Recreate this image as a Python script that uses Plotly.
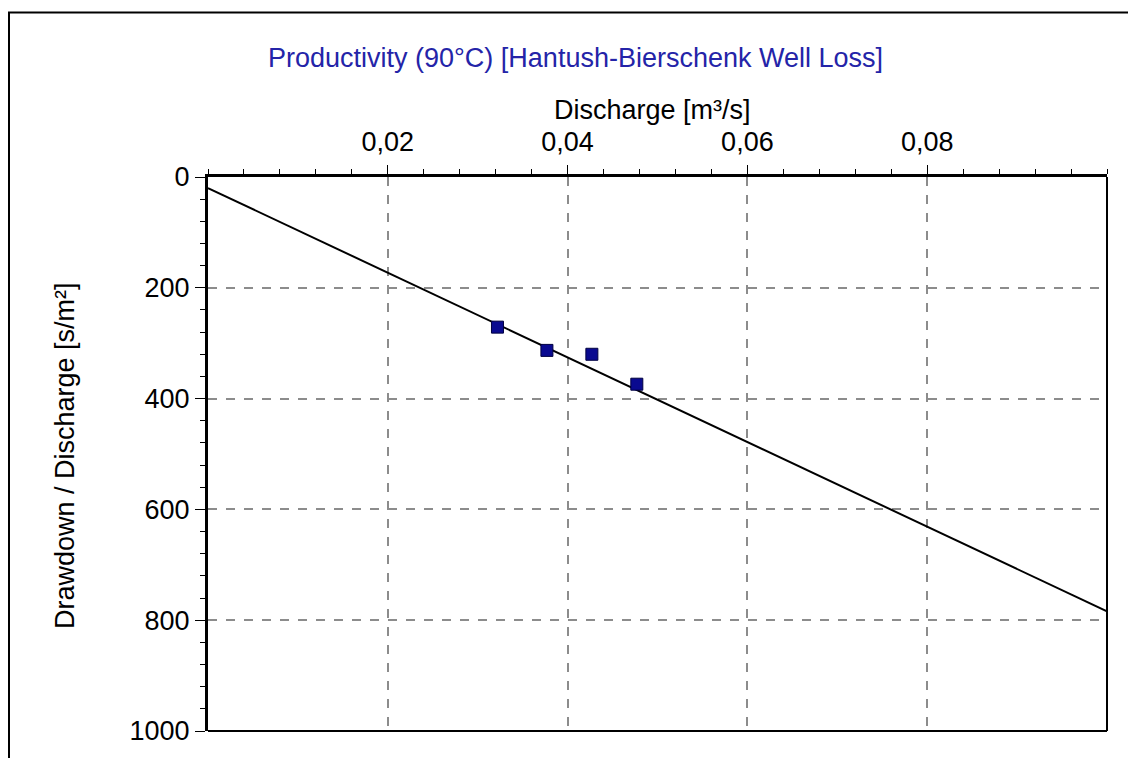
import plotly.graph_objects as go

# Data
measured_q = [0.0322, 0.0377, 0.0427, 0.0477]
measured_sq = [271, 313, 320, 374]
fit_q = [0.0, 0.1]
fit_sq = [20, 784]
x_ticks = [0.02, 0.04, 0.06, 0.08]
y_ticks = [0, 200, 400, 600, 800, 1000]

FONT = "Liberation Sans, Arial, sans-serif"
FS = 27
OFF = 8  # page body margin

# reference pixel positions (of the screenshot)
L, T, R, B = 208 - OFF, 177 - OFF, 1107 - OFF, 733 - OFF
W, H = 1136 - OFF, 758 - OFF

def px(xp):
    return (xp - OFF - L) / (R - L)

def py(yp):
    return (B - (yp - OFF)) / (B - T)

fig = go.Figure()
fig.add_trace(go.Scatter(x=fit_q, y=fit_sq, mode="lines",
                         line=dict(color="black", width=2), showlegend=False))
fig.add_trace(go.Scatter(x=measured_q, y=measured_sq, mode="markers",
                         marker=dict(symbol="square", size=12, color="#0a0a90",
                                     line=dict(color="#000040", width=1)),
                         showlegend=False))

fig.update_layout(
    width=W, height=H,
    margin=dict(l=L, r=W - R, t=T, b=H - B, pad=0),
    paper_bgcolor="white", plot_bgcolor="white",
    separators=",.",
    font=dict(family=FONT, size=FS, color="black"),
    title=dict(text="Productivity (90°C) [Hantush-Bierschenk Well Loss]",
               font=dict(family=FONT, size=FS, color="#2424a8"),
               x=(575.5 - OFF) / W, xanchor="center", xref="container",
               y=1 - (58 - OFF) / H, yanchor="middle", yref="container"),
    xaxis=dict(side="top", range=[0, 0.1], tickvals=x_ticks,
               tickformat=".2f", showgrid=True, gridcolor="#8c8c8c",
               griddash="dash", gridwidth=1.5,
               showline=True, linecolor="black", linewidth=3,
               ticks="outside", ticklen=9, tickcolor="black", tickwidth=1,
               ticklabelstandoff=3,
               minor=dict(dtick=0.004, tick0=0, ticks="outside", ticklen=5,
                          tickcolor="black", showgrid=False),
               zeroline=False),
    yaxis=dict(range=[1000, 0], tickvals=y_ticks, showgrid=True,
               gridcolor="#8c8c8c", griddash="dash", gridwidth=1.5,
               showline=True, linecolor="black", linewidth=3,
               ticks="outside", ticklen=10, tickcolor="black", tickwidth=1,
               ticklabelstandoff=0,
               minor=dict(dtick=40, tick0=0, ticks="outside", ticklen=5,
                          tickcolor="black", showgrid=False),
               zeroline=False),
    annotations=[
        dict(text="Discharge [m³/s]", xref="paper", yref="paper",
             x=px(652), y=py(110), showarrow=False,
             xanchor="center", yanchor="middle", font=dict(size=FS)),
        dict(text="Drawdown / Discharge [s/m²]", xref="paper", yref="paper",
             x=px(65), y=py(457), showarrow=False, textangle=-90,
             xanchor="center", yanchor="middle", font=dict(size=FS)),
    ],
    shapes=[
        dict(type="line", xref="paper", yref="paper", x0=1, x1=1, y0=0, y1=1,
             line=dict(color="black", width=2)),
        dict(type="line", xref="paper", yref="paper", x0=0, x1=1, y0=0, y1=0,
             line=dict(color="black", width=2)),
        dict(type="line", xref="paper", yref="paper", x0=px(8), x1=px(1140),
             y0=py(12), y1=py(12), line=dict(color="black", width=2)),
        dict(type="line", xref="paper", yref="paper", x0=px(9), x1=px(9),
             y0=py(12), y1=py(770), line=dict(color="black", width=2)),
    ],
)

fig.write_html("out.html")
